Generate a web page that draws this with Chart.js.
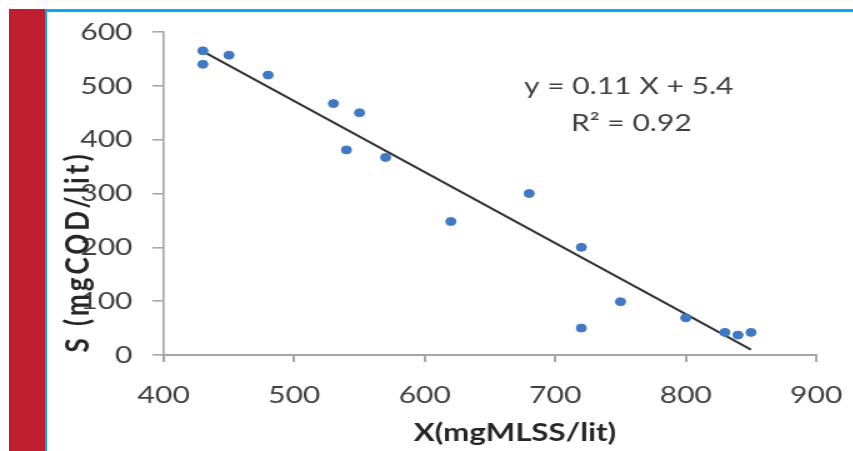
<!DOCTYPE html>
<html>
<head>
<meta charset="utf-8">
<script src="https://cdn.jsdelivr.net/npm/chart.js@4.4.1/dist/chart.umd.min.js"></script>
<style>
  html, body { margin: 0; padding: 0; background: #fff; }
  body { width: 853px; height: 451px; position: relative; overflow: hidden; }
  #redBar { position: absolute; left: 9px; top: 9px; width: 36px; height: 442px; background: #be1e2d; }
  #blueTop { position: absolute; left: 45px; top: 9px; width: 808px; height: 3px; background: #00aeef; }
  #blueLeft { position: absolute; left: 45px; top: 9px; width: 2px; height: 442px; background: #00aeef; }
  #wrap { position: absolute; left: 0; top: 0; transform: scaleX(1.25); transform-origin: 0 0; }
</style>
</head>
<body>
<div id="redBar"></div>
<div id="blueTop"></div>
<div id="blueLeft"></div>
<div id="wrap"><canvas id="chart" width="682" height="451"></canvas></div>
<script>
  // measured points (MLSS vs COD)
  const mlss = [430, 430, 450, 480, 530, 540, 550, 570, 620, 680, 720, 720, 750, 800, 830, 840, 850];
  const cod  = [565, 540, 557, 520, 467, 381, 450, 367, 248, 300, 200, 50, 99, 69, 42, 37, 42];
  // trend line ends as drawn in the figure
  const trendX = [430, 850];
  const trendY = [564, 10];
  const eqLines = ["y = 0.11 X + 5.4", "R\u00b2 = 0.92"];
  const xTitle = "X(mgMLSS/lit)";
  const yTitle = "S (mgCOD/lit)";

  const points = mlss.map((x, i) => ({ x: x, y: cod[i] }));
  const trend = trendX.map((x, i) => ({ x: x, y: trendY[i] }));

  const tickFont = { family: "Lato", size: 24 };
  const axisGray = "#a6a6a6";

  // equation and axis titles (excel puts them off-centre)
  const textPlugin = {
    id: "extraText",
    afterDraw(chart) {
      const ctx = chart.ctx;
      ctx.save();
      ctx.fillStyle = "#404040";
      ctx.font = "24px Lato";
      ctx.textAlign = "center";
      ctx.textBaseline = "middle";
      ctx.fillText(eqLines[0], 503, 86);
      ctx.fillText(eqLines[1], 505, 123);
      ctx.fillStyle = "#262626";
      ctx.font = "bold 25px Lato";
      ctx.fillText(xTitle, 412, 433);
      ctx.font = "bold 26px Lato";
      ctx.letterSpacing = "3px";
      ctx.translate(63, 252);
      ctx.rotate(-Math.PI / 2);
      ctx.fillText(yTitle, 0, 0);
      ctx.restore();
    }
  };

  new Chart(document.getElementById("chart"), {
    type: 'scatter',
    data: {
      datasets: [
        {
          label: "S",
          data: points,
          backgroundColor: "#4178c4",
          borderColor: "#4178c4",
          pointRadius: 4,
          pointHoverRadius: 4
        },
        {
          label: "trend",
          data: trend,
          showLine: true,
          borderColor: "#333333",
          borderWidth: 2,
          pointRadius: 0,
          fill: false
        }
      ]
    },
    options: {
      responsive: false,
      animation: false,
      devicePixelRatio: 1,
      layout: { padding: { left: 0, right: 29, top: 32, bottom: 0 } },
      plugins: {
        legend: { display: false },
        tooltip: { enabled: false }
      },
      scales: {
        x: {
          type: 'linear',
          min: 400,
          max: 900,
          afterFit: (s) => { s.height = 96; s.paddingLeft = 20; s.paddingRight = 20; },
          ticks: { stepSize: 100, color: "#404040", font: tickFont, padding: 19, maxRotation: 0 },
          grid: { drawOnChartArea: false, drawTicks: true, tickLength: 7, color: axisGray, lineWidth: 2 },
          border: { display: true, color: axisGray, width: 2 }
        },
        y: {
          min: 0,
          max: 600,
          afterFit: (s) => { s.width = 131; },
          ticks: { stepSize: 100, color: "#404040", font: tickFont, padding: 16 },
          grid: { drawOnChartArea: false, drawTicks: true, tickLength: 9, color: axisGray, lineWidth: 1.6 },
          border: { display: true, color: axisGray, width: 1.6 }
        }
      }
    },
    plugins: [textPlugin]
  });
</script>
</body>
</html>
